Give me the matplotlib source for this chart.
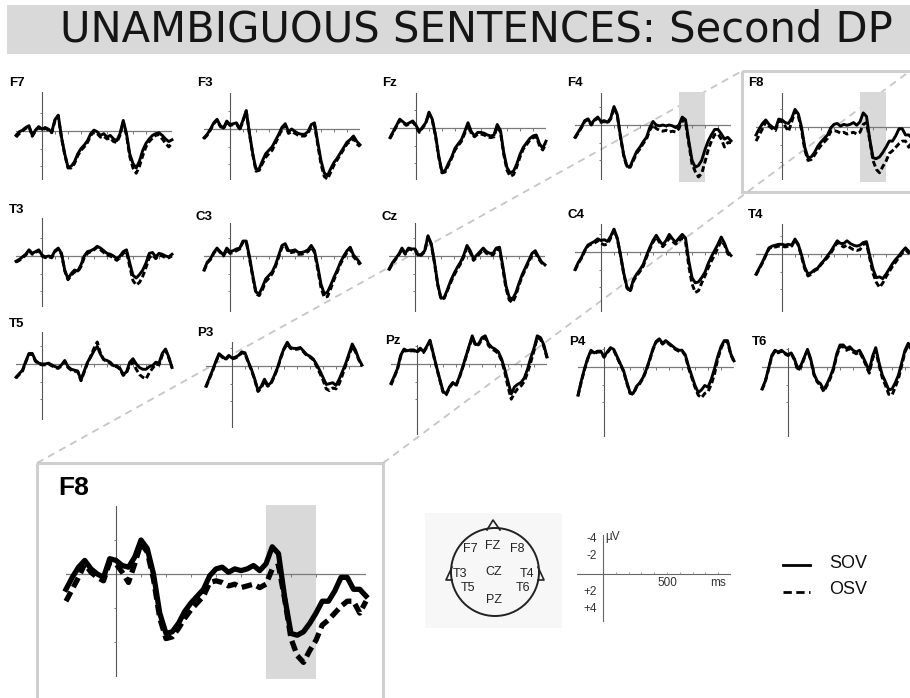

# - - - - - - - - - - - - - - - - - - - - - - - - - - - - - - - - -
# IMPORTS
# - - - - - - - - - - - - - - - - - - - - - - - - - - - - - - - - -

import numpy as np
import matplotlib
matplotlib.use('Agg')
import matplotlib.pyplot as plt
from matplotlib.patches import Rectangle, Circle


# - - - - - - - - - - - - - - - - - - - - - - - - - - - - - - - - -
# DATA -- grand averages, microvolts, negative up
# - - - - - - - - - - - - - - - - - - - - - - - - - - - - - - - - -

TIMES = np.arange(-200, 1001, 25)   # ms

F7_SOV = [0.5, 0.1, -0.1, -0.4, -0.6, 0.5, -0.1, -0.5,
          -0.2, -0.4, -0.2, 0.1, -1.3, -1.8, 0.7, 2.6,
          4.1, 4.0, 3.5, 2.6, 2.0, 1.6, 1.1, 0.3,
          -0.1, 0.1, 0.5, 0.3, 0.7, 0.5, 0.9, 1.1,
          0.3, -1.2, 0.3, 2.6, 3.7, 4.2, 3.4, 2.2,
          1.4, 0.9, 0.5, 0.3, 0.2, 0.5, 0.9, 1.2, 1.0]
F7_OSV = [0.7, 0.3, 0.0, -0.3, -0.5, 0.6, 0.0, -0.4,
          -0.1, -0.3, -0.1, 0.2, -1.2, -1.7, 0.8, 2.7,
          4.2, 4.2, 3.7, 2.8, 2.2, 1.8, 1.3, 0.5,
          0.1, 0.3, 0.7, 0.6, 0.9, 0.8, 1.2, 1.3,
          0.5, -1.0, 0.5, 2.9, 4.2, 4.8, 4.0, 2.8,
          1.8, 1.2, 0.8, 0.5, 0.4, 0.9, 1.4, 1.8, 1.4]

F3_SOV = [1.0, 0.6, 0.0, -0.7, -1.1, -0.4, -0.1, -0.9,
          -0.5, -0.6, -0.7, 0.0, -1.0, -2.1, 0.5, 2.8,
          4.6, 4.5, 3.6, 2.8, 2.4, 2.0, 1.3, 0.6,
          -0.2, -0.6, 0.3, 0.0, 0.3, 0.5, 0.6, 0.6,
          0.3, -0.5, -0.7, 1.5, 3.6, 5.0, 5.3, 4.5,
          3.8, 3.3, 2.7, 2.1, 1.5, 1.2, 0.8, 1.4, 1.8]
F3_OSV = [1.1, 0.7, 0.1, -0.6, -1.0, -0.3, 0.0, -0.8,
          -0.4, -0.5, -0.6, 0.1, -0.9, -2.0, 0.6, 2.9,
          4.8, 4.7, 3.9, 3.2, 2.8, 2.4, 1.6, 0.8,
          0.0, -0.4, 0.5, 0.3, 0.5, 0.7, 0.8, 0.8,
          0.5, -0.3, -0.5, 1.8, 4.0, 5.4, 5.7, 4.9,
          4.1, 3.5, 2.9, 2.3, 1.7, 1.4, 1.1, 1.7, 2.0]

FZ_SOV = [1.1, 0.4, -0.3, -1.0, -0.7, -0.4, -0.6, -0.8,
          -0.3, 0.4, -0.1, -0.6, -1.8, -1.0, 0.8, 3.2,
          5.0, 4.8, 4.0, 3.3, 2.3, 1.8, 1.3, 0.4,
          -0.6, 0.4, 0.9, 0.5, 0.5, 0.6, 0.8, 0.9,
          0.8, -0.4, 0.3, 2.8, 4.5, 5.1, 4.9, 4.1,
          3.0, 2.2, 1.7, 1.2, 0.9, 0.8, 1.8, 2.3, 1.5]
FZ_OSV = [1.2, 0.5, -0.2, -0.9, -0.6, -0.3, -0.5, -0.7,
          -0.2, 0.5, 0.0, -0.5, -1.7, -0.9, 0.9, 3.3,
          5.1, 5.0, 4.2, 3.4, 2.5, 2.0, 1.5, 0.6,
          -0.4, 0.6, 1.0, 0.7, 0.7, 0.8, 1.0, 1.1,
          1.0, -0.2, 0.5, 3.0, 4.8, 5.5, 5.3, 4.4,
          3.3, 2.4, 1.9, 1.4, 1.1, 1.0, 2.0, 2.5, 1.8]

F4_SOV = [1.4, 0.8, 0.2, -0.5, -0.7, -0.1, -0.6, -0.9,
          -0.4, -0.5, -0.3, -0.8, -2.1, -1.2, 1.3, 3.4,
          4.7, 4.7, 3.8, 3.0, 2.5, 1.9, 1.4, 0.3,
          -0.4, 0.0, 0.1, 0.0, 0.1, 0.0, 0.1, 0.3,
          0.0, -0.9, -0.6, 1.8, 4.0, 4.8, 4.6, 4.0,
          2.8, 1.8, 1.1, 0.5, 0.5, 1.0, 1.6, 1.4, 1.8]
F4_OSV = [1.5, 0.9, 0.3, -0.4, -0.6, 0.0, -0.5, -0.8,
          -0.3, -0.4, -0.2, -0.7, -2.0, -1.1, 1.4, 3.5,
          4.8, 4.8, 4.0, 3.2, 2.7, 2.1, 1.6, 0.6,
          0.0, 0.4, 0.6, 0.7, 0.6, 0.8, 0.7, 0.8,
          0.4, -0.6, -0.3, 2.1, 4.4, 5.3, 5.9, 5.5,
          4.2, 2.8, 1.8, 1.1, 1.0, 1.6, 2.5, 2.0, 2.0]

F8_SOV = [0.9, 0.2, -0.4, -0.8, -0.3, 0.0, 0.2, -0.9,
          -0.8, -0.5, -0.4, -1.0, -2.0, -1.5, 0.0, 2.3,
          3.5, 3.4, 2.9, 2.2, 1.7, 1.3, 0.9, 0.1,
          -0.3, -0.4, -0.1, -0.3, -0.2, -0.3, -0.5, -0.2,
          -0.6, -1.6, -1.2, 1.4, 3.5, 3.6, 3.4, 2.9,
          2.3, 1.6, 1.6, 1.0, 0.2, 0.2, 0.9, 0.9, 1.3]
F8_OSV = [1.6, 0.9, 0.2, -0.6, -0.1, 0.2, 0.4, -0.7,
          -0.6, -0.1, 0.5, -0.6, -1.8, -1.3, 0.3, 2.6,
          3.8, 3.7, 3.2, 2.6, 2.1, 1.7, 1.3, 0.5,
          0.4, 0.5, 0.7, 0.6, 0.8, 0.7, 0.6, 0.8,
          0.6, -0.3, -0.5, 1.5, 3.8, 4.8, 5.2, 4.5,
          3.9, 3.0, 2.7, 2.3, 1.9, 1.6, 1.6, 2.3, 1.6]

T3_SOV = [0.6, 0.4, 0.1, -0.2, -0.7, -0.3, -0.5, -0.7,
          -0.1, 0.1, 0.0, 0.1, -0.6, -0.9, -0.3, 1.6,
          2.6, 2.0, 1.6, 1.7, 1.0, 0.0, -0.5, -0.6,
          -0.8, -1.1, -0.9, -0.6, -0.3, -0.2, 0.0, 0.3,
          0.0, -0.5, -0.7, 0.8, 2.2, 2.5, 2.1, 1.6,
          0.8, -0.3, -0.4, 0.1, -0.3, -0.2, 0.0, 0.1, -0.2]
T3_OSV = [0.7, 0.5, 0.2, -0.1, -0.6, -0.2, -0.4, -0.6,
          0.0, 0.2, 0.1, 0.2, -0.5, -0.8, -0.2, 1.7,
          2.7, 2.2, 1.8, 1.8, 1.2, 0.2, -0.3, -0.5,
          -0.7, -1.0, -0.7, -0.4, -0.1, 0.0, 0.2, 0.5,
          0.2, -0.3, -0.5, 1.2, 2.8, 3.3, 3.0, 2.3,
          1.3, 0.2, -0.1, 0.3, -0.1, 0.0, 0.2, 0.2, 0.0]

C3_SOV = [1.6, 0.7, 0.3, -0.4, -0.9, -0.5, -0.1, -0.9,
          -0.5, -0.6, -0.8, -0.9, -1.7, -1.7, 0.1, 2.2,
          4.1, 4.3, 3.5, 2.6, 2.2, 1.8, 1.0, -0.1,
          -1.2, -1.4, -0.6, -0.6, -0.7, -0.4, -0.4, -0.5,
          -0.7, -1.2, -0.6, 1.2, 3.2, 4.3, 4.1, 3.3,
          2.4, 1.6, 0.7, 0.0, -0.6, -1.0, -0.1, 0.3, 0.8]
C3_OSV = [1.7, 0.8, 0.4, -0.3, -0.8, -0.4, 0.0, -0.7,
          -0.3, -0.4, -0.6, -0.8, -1.6, -1.6, 0.3, 2.4,
          4.3, 4.5, 3.8, 2.9, 2.5, 2.0, 1.2, 0.1,
          -1.0, -1.2, -0.4, -0.4, -0.5, -0.2, -0.2, -0.3,
          -0.5, -1.0, -0.4, 1.5, 3.6, 4.7, 4.6, 3.7,
          2.7, 1.8, 0.9, 0.2, -0.4, -0.8, 0.1, 0.5, 1.0]

CZ_SOV = [1.5, 0.8, 0.3, -0.2, -0.9, -0.3, -0.9, -0.8,
          -0.8, -0.1, -0.2, -0.6, -2.3, -1.4, 0.7, 3.2,
          4.8, 4.7, 3.8, 2.8, 2.0, 1.3, 0.7, -0.1,
          -1.2, -0.6, 0.3, -0.1, -0.5, -0.9, -0.5, -0.3,
          -0.3, -0.9, -1.0, 1.1, 3.4, 4.7, 4.9, 4.2,
          3.1, 2.1, 1.3, 0.5, -0.3, -0.6, 0.1, 0.7, 1.0]
CZ_OSV = [1.6, 0.9, 0.4, -0.1, -0.8, -0.2, -0.8, -0.7,
          -0.7, 0.0, -0.1, -0.5, -2.2, -1.3, 0.8, 3.3,
          4.9, 4.8, 3.9, 3.0, 2.2, 1.5, 0.9, 0.1,
          -1.0, -0.4, 0.5, 0.1, -0.3, -0.7, -0.3, -0.1,
          -0.1, -0.7, -0.8, 1.4, 3.7, 5.0, 5.3, 4.5,
          3.3, 2.3, 1.5, 0.7, -0.1, -0.4, 0.3, 0.8, 1.1]

C4_SOV = [2.0, 1.2, 0.6, -0.2, -0.8, -1.0, -1.2, -1.5,
          -1.3, -1.4, -1.2, -1.8, -2.6, -1.6, 0.3, 2.4,
          4.0, 4.4, 3.1, 2.5, 2.0, 1.4, 0.4, -0.5,
          -1.3, -1.9, -1.3, -0.8, -1.3, -2.0, -1.5, -1.1,
          -1.6, -2.0, -1.6, 1.0, 2.9, 3.5, 3.4, 2.9,
          2.3, 1.3, 0.5, -0.2, -0.9, -1.7, -1.0, 0.0, 0.4]
C4_OSV = [2.1, 1.3, 0.7, -0.1, -0.7, -0.9, -1.0, -1.3,
          -1.0, -0.8, -0.9, -1.6, -2.5, -1.5, 0.4, 2.5,
          4.1, 4.5, 3.3, 2.7, 2.2, 1.6, 0.6, -0.3,
          -1.1, -1.7, -1.1, -0.6, -1.0, -1.6, -1.2, -0.9,
          -1.3, -1.6, -1.2, 1.6, 3.6, 4.6, 4.4, 3.5,
          2.7, 1.8, 1.0, 0.3, -0.5, -1.3, -0.8, 0.2, 0.5]

T4_SOV = [2.3, 1.6, 0.9, 0.1, -0.7, -0.9, -1.0, -1.1,
          -1.1, -1.0, -1.1, -1.0, -1.7, -1.1, 0.1, 1.5,
          2.3, 2.1, 1.8, 1.6, 1.1, 0.7, 0.2, -0.3,
          -0.9, -1.5, -1.2, -1.2, -1.5, -1.2, -1.0, -0.9,
          -1.0, -1.3, -1.4, 0.2, 1.7, 2.7, 2.6, 2.8,
          2.3, 1.7, 1.1, 0.6, 0.2, -0.3, -0.7, -0.3, 0.0]
T4_OSV = [2.4, 1.7, 1.0, 0.2, -0.6, -0.8, -0.8, -0.9,
          -0.9, -0.8, -0.9, -0.9, -1.6, -1.0, 0.3, 1.7,
          2.5, 2.3, 1.9, 1.7, 1.2, 0.8, 0.4, -0.1,
          -0.7, -1.3, -1.0, -0.8, -1.0, -0.7, -0.5, -0.4,
          -0.5, -1.1, -1.2, 0.5, 2.2, 3.2, 3.8, 3.3,
          2.6, 2.0, 1.4, 0.9, 0.4, -0.1, -0.5, -0.1, 0.1]

T5_SOV = [1.5, 1.1, 0.7, -0.3, -1.2, -1.2, -0.4, -0.1,
          0.0, 0.0, -0.1, 0.1, 0.3, 0.4, 0.1, -0.4,
          0.3, 0.6, 0.7, 0.8, 1.8, 0.8, -0.2, -0.8,
          -1.5, -2.0, -1.1, -0.5, -0.4, -0.2, 0.2, 0.2,
          0.5, 1.2, 0.9, -0.2, -0.6, 0.0, 0.4, 0.6,
          0.6, 0.3, 0.2, -0.2, -0.1, -1.2, -1.7, -0.8, 0.4]
T5_OSV = [1.6, 1.2, 0.8, -0.2, -1.1, -1.1, -0.3, 0.0,
          0.1, 0.1, 0.0, 0.2, 0.4, 0.5, 0.2, -0.3,
          0.4, 0.7, 0.8, 0.9, 1.9, 0.9, -0.1, -0.9,
          -1.8, -2.5, -1.2, -0.5, -0.3, -0.1, 0.3, 0.3,
          0.6, 1.3, 1.0, 0.1, -0.2, 0.6, 1.2, 1.5,
          1.7, 1.0, 0.5, 0.0, 0.1, -1.0, -1.6, -0.7, 0.4]

P3_SOV = [2.3, 1.4, 0.5, -0.5, -1.4, -1.1, -0.8, -1.2,
          -0.9, -1.0, -1.2, -1.6, -1.5, -0.5, 0.4, 1.5,
          2.8, 2.3, 1.5, 2.2, 1.9, 1.1, 0.2, -1.0,
          -2.0, -2.7, -2.1, -2.0, -2.0, -2.1, -1.7, -1.3,
          -1.1, -0.8, -0.2, 0.5, 1.3, 2.1, 2.0, 1.9,
          2.2, 1.5, 0.6, -0.3, -1.4, -2.5, -1.8, -0.8, -0.1]
P3_OSV = [2.4, 1.5, 0.6, -0.4, -1.3, -1.0, -0.7, -1.1,
          -0.8, -0.9, -1.1, -1.5, -1.4, -0.4, 0.5, 1.6,
          2.9, 2.5, 1.7, 2.3, 2.0, 1.2, 0.3, -0.9,
          -1.9, -2.5, -2.0, -1.9, -1.9, -2.0, -1.6, -1.2,
          -1.0, -0.7, 0.0, 0.8, 1.6, 2.6, 2.8, 2.5,
          2.6, 2.0, 1.0, -0.1, -1.2, -2.2, -1.6, -0.7, 0.0]

PZ_SOV = [2.2, 1.4, 0.5, -1.0, -1.7, -1.5, -1.6, -1.6,
          -1.4, -1.8, -1.4, -2.0, -2.7, -1.2, 0.3, 1.7,
          3.1, 3.4, 2.6, 2.1, 2.4, 1.5, 0.4, -0.8,
          -2.0, -3.2, -2.2, -2.3, -3.0, -3.2, -2.3, -1.9,
          -1.7, -1.4, -0.6, 0.6, 2.0, 3.4, 2.6, 2.3,
          2.1, 1.6, 0.6, -0.7, -1.8, -3.2, -3.0, -2.2, -0.8]
PZ_OSV = [2.4, 1.5, 0.6, -0.9, -1.6, -1.4, -1.5, -1.5,
          -1.3, -1.7, -1.3, -1.9, -2.6, -1.1, 0.4, 1.8,
          3.2, 3.5, 2.7, 2.2, 2.5, 1.6, 0.5, -0.7,
          -1.9, -3.0, -2.1, -2.2, -2.8, -3.0, -2.1, -1.7,
          -1.5, -1.2, -0.4, 0.9, 2.6, 4.0, 3.3, 2.8,
          2.5, 2.0, 1.0, -0.2, -1.5, -3.0, -2.8, -2.0, -0.7]

P4_SOV = [3.2, 1.6, 0.2, -1.0, -1.9, -1.6, -1.8, -1.8,
          -1.2, -1.7, -2.2, -2.0, -1.2, -0.4, 0.4, 1.7,
          2.9, 3.0, 2.2, 1.8, 1.2, 0.3, -0.8, -2.0,
          -2.9, -3.2, -2.7, -3.0, -2.7, -2.4, -2.1, -1.9,
          -1.9, -1.4, -0.1, 1.0, 2.1, 2.9, 2.6, 2.1,
          2.3, 1.4, 0.2, -1.2, -2.3, -3.0, -3.0, -1.5, -0.7]
P4_OSV = [3.3, 1.7, 0.3, -0.9, -1.8, -1.5, -1.7, -1.7,
          -1.1, -1.6, -2.1, -1.9, -1.1, -0.3, 0.5, 1.8,
          3.0, 3.1, 2.3, 1.9, 1.3, 0.4, -0.7, -1.9,
          -2.8, -3.1, -2.6, -2.9, -2.6, -2.3, -2.0, -1.8,
          -1.8, -1.3, 0.1, 1.2, 2.3, 3.2, 3.5, 3.0,
          2.8, 2.0, 0.8, -0.9, -2.1, -2.9, -2.9, -1.4, -0.6]

T6_SOV = [2.5, 1.6, 0.2, -1.3, -1.9, -1.7, -1.9, -1.6,
          -1.4, -1.6, -0.9, 0.2, -0.2, -1.1, -2.0, -0.9,
          0.8, 1.6, 1.9, 2.6, 1.9, 1.1, 0.1, -1.5,
          -2.5, -2.5, -2.1, -2.3, -1.9, -1.7, -1.9, -1.2,
          -0.4, 0.4, -1.2, -2.2, -0.5, 0.9, 1.7, 2.6,
          2.5, 1.8, 0.9, -0.5, -1.9, -2.7, -2.2, -1.0, -0.5]
T6_OSV = [2.6, 1.7, 0.3, -1.2, -1.8, -1.6, -1.8, -1.5,
          -1.3, -1.5, -0.8, 0.4, 0.0, -1.0, -1.9, -0.8,
          0.9, 1.7, 2.1, 2.8, 2.1, 1.3, 0.3, -1.3,
          -2.3, -2.3, -1.9, -2.1, -1.7, -1.5, -1.7, -1.0,
          -0.2, 0.7, -0.9, -1.9, -0.2, 1.2, 2.1, 3.1,
          3.2, 2.3, 1.3, -0.2, -1.7, -2.5, -2.0, -0.9, -0.4]

SOV = {'F7': F7_SOV, 'F3': F3_SOV, 'Fz': FZ_SOV, 'F4': F4_SOV, 'F8': F8_SOV,
       'T3': T3_SOV, 'C3': C3_SOV, 'Cz': CZ_SOV, 'C4': C4_SOV, 'T4': T4_SOV,
       'T5': T5_SOV, 'P3': P3_SOV, 'Pz': PZ_SOV, 'P4': P4_SOV, 'T6': T6_SOV}
OSV = {'F7': F7_OSV, 'F3': F3_OSV, 'Fz': FZ_OSV, 'F4': F4_OSV, 'F8': F8_OSV,
       'T3': T3_OSV, 'C3': C3_OSV, 'Cz': CZ_OSV, 'C4': C4_OSV, 'T4': T4_OSV,
       'T5': T5_OSV, 'P3': P3_OSV, 'Pz': PZ_OSV, 'P4': P4_OSV, 'T6': T6_OSV}

HIGHLIGHTED = ['F4', 'F8']
WINDOW = (600, 800)        # ms, shaded window
ZOOMED = 'F8'

TITLE = 'UNAMBIGUOUS SENTENCES: Second DP'
CONDITIONS = ['SOV', 'OSV']


# - - - - - - - - - - - - - - - - - - - - - - - - - - - - - - - - -
# LAYOUT -- pixel positions on the 910 x 698 canvas
# - - - - - - - - - - - - - - - - - - - - - - - - - - - - - - - - -

W, H = 910, 698
PX_PER_MS = 0.13
PX_PER_UV = 8.8

# name: (x of time zero, y of zero volts, axis top, axis bottom, label x, label y)
PANELS = {
    'F7': (42, 131, 92, 180, 9, 83),
    'F3': (230, 129, 93, 180, 197, 83),
    'Fz': (416, 128, 93, 180, 382, 83),
    'F4': (601, 125, 93, 180, 567, 83),
    'F8': (782, 127, 93, 180, 748, 83),
    'T3': (42, 256, 218, 307, 9, 210),
    'C3': (230, 256, 223, 312, 195, 217),
    'Cz': (415, 256, 223, 312, 382, 217),
    'C4': (601, 252, 224, 312, 567, 215),
    'T4': (782, 254, 224, 312, 748, 215),
    'T5': (42, 364, 332, 420, 9, 324),
    'P3': (232, 366, 342, 428, 197, 333),
    'Pz': (417, 364, 345, 435, 385, 341),
    'P4': (604, 367, 347, 437, 569, 342),
    'T6': (788, 367, 348, 437, 752, 342),
}

SHADE = '#d9d9d9'
FRAME = '#cfcfcf'
LABEL_FONT = ['Liberation Sans', 'DejaVu Sans']


fig = plt.figure(figsize=(W / 100, H / 100), dpi=100)

# overlay in pixel units for decorations
ov = fig.add_axes([0, 0, 1, 1], zorder=-1)
ov.set_xlim(0, W)
ov.set_ylim(H, 0)
ov.axis('off')


def px_axes(left, top, width, height):
    ax = fig.add_axes([left / W, 1 - (top + height) / H, width / W, height / H])
    ax.set_facecolor('none')
    ax.axis('off')
    return ax


def erp_axes(x0, y0, top, bottom, px_ms, px_uv):
    ax = px_axes(x0 - 200 * px_ms, top, 1200 * px_ms, bottom - top)
    ax.set_xlim(-200, 1000)
    ax.set_ylim((bottom - y0) / px_uv, -(y0 - top) / px_uv)   # negative up
    return ax


def draw_erp(ax, name, lw, px_ms, px_uv, shaded):
    lo, hi = ax.get_ylim()[1], ax.get_ylim()[0]
    if shaded:
        ax.add_patch(Rectangle((WINDOW[0], lo - 1.5 / px_uv), WINDOW[1] - WINDOW[0],
                               hi - lo + 3 / px_uv, color=SHADE, lw=0, zorder=0,
                               clip_on=False))
    ax.axhline(0, color='#7a7a7a', lw=0.9, zorder=1)
    ax.axvline(0, color='#555555', lw=0.8, zorder=1)
    ax.hlines([-2, 2, 4], -2.5 / px_ms, 0, color='#777777', lw=0.7, zorder=1)
    ax.vlines(np.arange(100, 1000, 100), 0, 2.5 / px_uv, color='#777777', lw=0.7, zorder=1)
    ax.plot(TIMES, OSV[name], color='black', lw=lw, dashes=(2.0, 1.0), zorder=3,
            clip_on=False)
    ax.plot(TIMES, SOV[name], color='black', lw=lw, zorder=4, clip_on=False)


# - - - - - - - - - - - - - - - - - - - - - - - - - - - - - - - - -
# TITLE
# - - - - - - - - - - - - - - - - - - - - - - - - - - - - - - - - -

ov.add_patch(Rectangle((7, 5), W - 7, 49, color=SHADE, lw=0))
ov.text(476, 30, TITLE, ha='center', va='center', fontsize=30,
        family='DejaVu Sans', color='#151515')


# - - - - - - - - - - - - - - - - - - - - - - - - - - - - - - - - -
# CONNECTORS AND FRAMES
# - - - - - - - - - - - - - - - - - - - - - - - - - - - - - - - - -

dash_kw = dict(color='#c6c6c6', lw=1.3, dashes=(4, 3))
ov.plot([37, 742], [463, 71], **dash_kw)
ov.plot([383, 910], [463, 71], **dash_kw)
ov.add_patch(Rectangle((742, 71), 175, 121, fill=False, ec=FRAME, lw=2.2))
ov.add_patch(Rectangle((37, 463), 346, 260, fill=False, ec=FRAME, lw=2.2))


# - - - - - - - - - - - - - - - - - - - - - - - - - - - - - - - - -
# ELECTRODE GRID
# - - - - - - - - - - - - - - - - - - - - - - - - - - - - - - - - -

for name, (x0, y0, top, bottom, lx, ly) in PANELS.items():
    ax = erp_axes(x0, y0, top, bottom, PX_PER_MS, PX_PER_UV)
    draw_erp(ax, name, 2.1, PX_PER_MS, PX_PER_UV, name in HIGHLIGHTED)
    ov.text(lx, ly, name, ha='left', va='center', fontsize=9.5,
            fontweight='bold', family=LABEL_FONT)


# - - - - - - - - - - - - - - - - - - - - - - - - - - - - - - - - -
# ENLARGED F8
# - - - - - - - - - - - - - - - - - - - - - - - - - - - - - - - - -

big = erp_axes(116, 574, 506, 677, 0.25, 17.0)
draw_erp(big, ZOOMED, 3.8, 0.25, 17.0, True)
ov.text(58, 488, ZOOMED, ha='left', va='center', fontsize=19,
        fontweight='bold', family=LABEL_FONT)


# - - - - - - - - - - - - - - - - - - - - - - - - - - - - - - - - -
# HEAD MAP
# - - - - - - - - - - - - - - - - - - - - - - - - - - - - - - - - -

ov.add_patch(Rectangle((425, 513), 137, 115, color='#f7f7f7', lw=0))
ov.add_patch(Circle((495, 572), 44, fill=False, ec='#222222', lw=1.4))
ov.plot([487, 493, 500], [530, 520, 530], color='#222222', lw=1.2)
ov.plot([452, 446, 452], [567, 580, 580], color='#222222', lw=1.2)
ov.plot([538, 544, 538], [567, 580, 580], color='#222222', lw=1.2)

head_labels = {'F7': (470, 549), 'FZ': (493, 546), 'F8': (517, 549),
               'T3': (460, 574), 'CZ': (494, 572), 'T4': (527, 574),
               'T5': (468, 588), 'T6': (523, 588), 'PZ': (494, 600)}
for lab, (hx, hy) in head_labels.items():
    ov.text(hx, hy, lab, ha='center', va='center', fontsize=9,
            family=LABEL_FONT, color='#222222')


# - - - - - - - - - - - - - - - - - - - - - - - - - - - - - - - - -
# SCALE
# - - - - - - - - - - - - - - - - - - - - - - - - - - - - - - - - -

sc = erp_axes(603, 574, 535, 622, 0.128, PX_PER_UV)
sc.axhline(0, color='#666666', lw=0.8)
sc.axvline(0, color='#666666', lw=0.8)
sc.vlines(np.arange(100, 1000, 100), -2.0 / PX_PER_UV, 0, color='#888888', lw=0.6)
for v in [-4, -2, 2, 4]:
    sc.text(-45, v, '%+d' % v, ha='right', va='center',
            fontsize=8.5, family=LABEL_FONT, color='#333333')
sc.text(20, -4.2, 'µV', ha='left', va='center', fontsize=8.5,
        family=LABEL_FONT, color='#333333')
sc.text(500, 1.0, '500', ha='center', va='center', fontsize=8.5,
        family=LABEL_FONT, color='#333333')
sc.text(900, 1.0, 'ms', ha='center', va='center', fontsize=8.5,
        family=LABEL_FONT, color='#333333')


# - - - - - - - - - - - - - - - - - - - - - - - - - - - - - - - - -
# LEGEND
# - - - - - - - - - - - - - - - - - - - - - - - - - - - - - - - - -

ov.plot([783, 810], [565, 565], color='black', lw=2.0)
ov.plot([783, 810], [592, 592], color='black', lw=2.0, dashes=(3.0, 1.6))
ov.text(829, 564, CONDITIONS[0], ha='left', va='center', fontsize=13,
        family=LABEL_FONT, color='#111111')
ov.text(829, 590, CONDITIONS[1], ha='left', va='center', fontsize=13,
        family=LABEL_FONT, color='#111111')


fig.savefig('out.png', dpi=100)
